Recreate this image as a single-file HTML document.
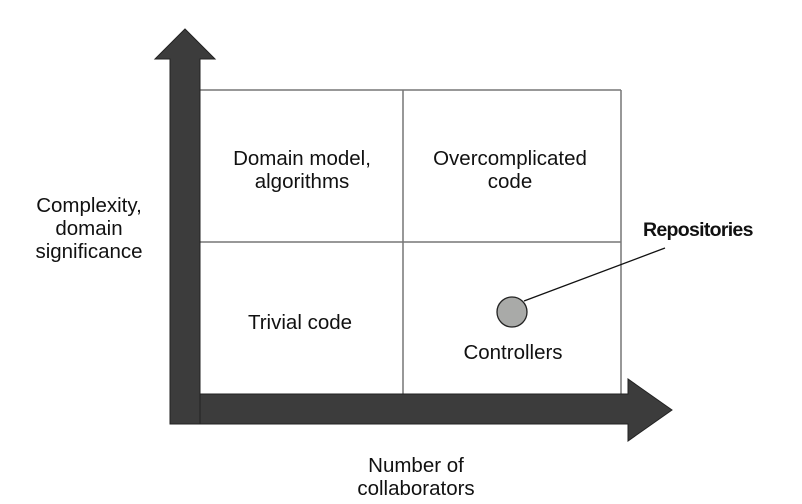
<!DOCTYPE html>
<html><head><meta charset="utf-8"><style>
body{margin:0;background:#fff;}
svg{display:block;}
text{font-family:"Liberation Sans",Arial,sans-serif;font-size:20.5px;fill:#111;}
</style></head><body>
<svg width="802" height="504" viewBox="0 0 802 504" xmlns="http://www.w3.org/2000/svg">
<g stroke="#777" stroke-width="1.5" fill="none">
<line x1="200" y1="90" x2="621" y2="90"/>
<line x1="200" y1="242" x2="621" y2="242"/>
<line x1="403" y1="90" x2="403" y2="395"/>
<line x1="621" y1="90" x2="621" y2="395"/>
</g>
<polygon points="185,29 215,59 200,59 200,424 170,424 170,59 155,59" fill="#3c3c3c" stroke="#222" stroke-width="1"/>
<polygon points="200,394 628,394 628,379 672,410 628,441 628,424 200,424" fill="#3c3c3c" stroke="#222" stroke-width="1"/>
<line x1="524" y1="301" x2="665" y2="248" stroke="#111" stroke-width="1.3"/>
<circle cx="512" cy="312" r="15" fill="#a9aaa8" stroke="#222" stroke-width="1.3"/>
<g text-anchor="middle">
<text x="302" y="165">Domain model,</text>
<text x="302" y="188">algorithms</text>
<text x="510" y="165">Overcomplicated</text>
<text x="510" y="188">code</text>
<text x="300" y="329">Trivial code</text>
<text x="513" y="359">Controllers</text>
<text x="89" y="212">Complexity,</text>
<text x="89" y="235">domain</text>
<text x="89" y="258">significance</text>
<text x="416" y="472">Number of</text>
<text x="416" y="495">collaborators</text>
</g>
<text x="643" y="236" style="font-weight:bold;font-size:19.5px;letter-spacing:-0.7px">Repositories</text>
</svg>
</body></html>
